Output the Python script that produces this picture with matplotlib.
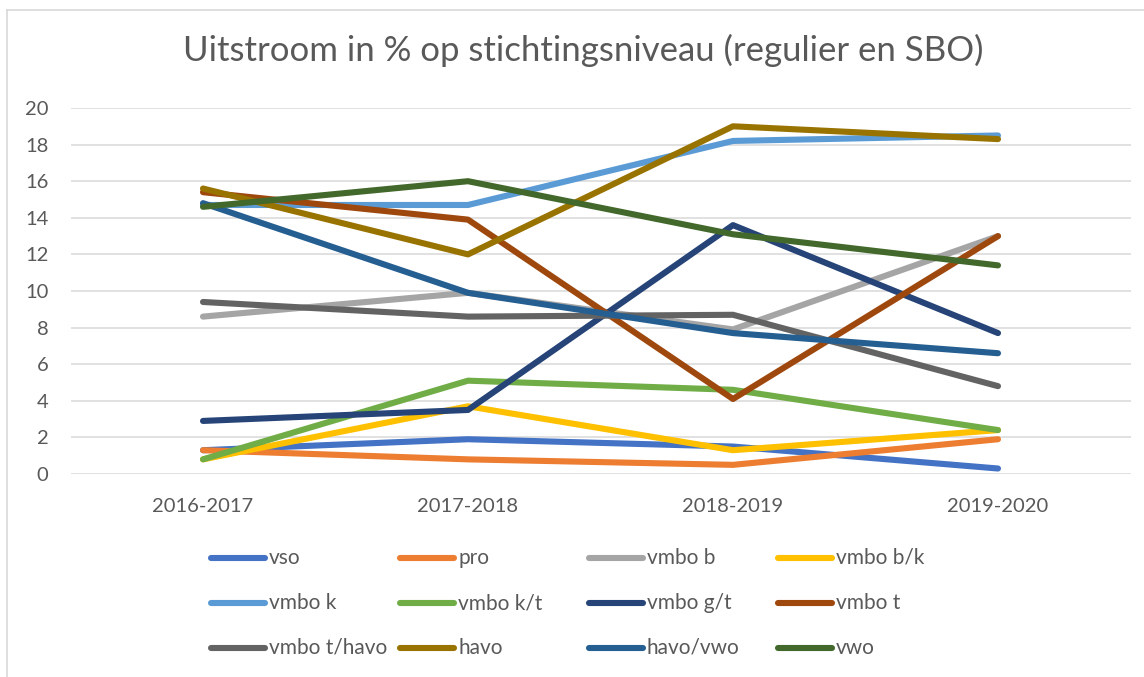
import matplotlib
matplotlib.use('Agg')
import matplotlib.pyplot as plt
from matplotlib.lines import Line2D

# schooljaren en uitstroom per schoolsoort (%)
jaren = ['2016-2017', '2017-2018', '2018-2019', '2019-2020']

vso = [1.3, 1.9, 1.5, 0.3]
pro = [1.3, 0.8, 0.5, 1.9]
vmbo_b = [8.6, 9.9, 7.9, 13.0]
vmbo_bk = [0.8, 3.7, 1.3, 2.4]
vmbo_k = [14.7, 14.7, 18.2, 18.5]
vmbo_kt = [0.8, 5.1, 4.6, 2.4]
vmbo_gt = [2.9, 3.5, 13.6, 7.7]
vmbo_t = [15.4, 13.9, 4.1, 13.0]
vmbo_thavo = [9.4, 8.6, 8.7, 4.8]
havo = [15.6, 12.0, 19.0, 18.3]
havo_vwo = [14.8, 9.9, 7.7, 6.6]
vwo = [14.6, 16.0, 13.1, 11.4]

namen = ['vso', 'pro', 'vmbo b', 'vmbo b/k', 'vmbo k', 'vmbo k/t',
         'vmbo g/t', 'vmbo t', 'vmbo t/havo', 'havo', 'havo/vwo', 'vwo']
reeksen = [vso, pro, vmbo_b, vmbo_bk, vmbo_k, vmbo_kt,
           vmbo_gt, vmbo_t, vmbo_thavo, havo, havo_vwo, vwo]
kleuren = ['#4472C4', '#ED7D31', '#A5A5A5', '#FFC000', '#5B9BD5', '#70AD47',
           '#264478', '#9E480E', '#636363', '#997300', '#255E91', '#43682B']

plt.rcParams['font.family'] = ['Lato', 'DejaVu Sans']
tekstkleur = '#595959'

W, H = 1144, 677
fig = plt.figure(figsize=(W / 100, H / 100), dpi=100)

# rand van de grafiek (alleen boven en links zichtbaar)
fig.add_artist(Line2D([7 / W, 1], [1 - 10 / H, 1 - 10 / H], transform=fig.transFigure,
                      color='#D9D9D9', lw=1.2))
fig.add_artist(Line2D([7 / W, 7 / W], [0, 1 - 10 / H], transform=fig.transFigure,
                      color='#D9D9D9', lw=1.2))

ax = fig.add_axes([70.5 / W, 1 - 474 / H, (1130.5 - 70.5) / W, (474 - 108) / H])

x = range(len(jaren))
for naam, waarden, kleur in zip(namen, reeksen, kleuren):
    ax.plot(x, waarden, color=kleur, lw=4.4, solid_capstyle='round',
            solid_joinstyle='round', label=naam)

ax.set_xlim(-0.5, 3.5)
ax.set_ylim(0, 20)
ax.set_yticks(range(0, 21, 2))
ax.set_xticks(list(x))
ax.set_xticklabels(jaren)
ax.yaxis.grid(True, color='#D9D9D9', lw=1.1)
ax.set_axisbelow(True)
for s in ax.spines.values():
    s.set_visible(False)
ax.tick_params(axis='both', length=0, labelsize=14.5, colors=tekstkleur)
ax.tick_params(axis='y', pad=16)
ax.tick_params(axis='x', pad=17)

fig.text(0.5 * (183 + 983) / W, 1 - 50 / H,
         'Uitstroom in % op stichtingsniveau (regulier en SBO)',
         ha='center', va='center', fontsize=25, color=tekstkleur)

# legenda in vier vaste kolommen, rij voor rij
for i, (naam, kleur) in enumerate(zip(namen, kleuren)):
    rij, kol = divmod(i, 4)
    x0 = 211 + kol * 189
    y0 = 558 + rij * 45
    fig.add_artist(Line2D([x0 / W, (x0 + 54) / W], [1 - y0 / H, 1 - y0 / H],
                          transform=fig.transFigure, color=kleur, lw=4.4,
                          solid_capstyle='round'))
    fig.text((x0 + 58) / W, 1 - y0 / H, naam, ha='left', va='center',
             fontsize=15, color=tekstkleur)

fig.savefig('out.png', dpi=100)
